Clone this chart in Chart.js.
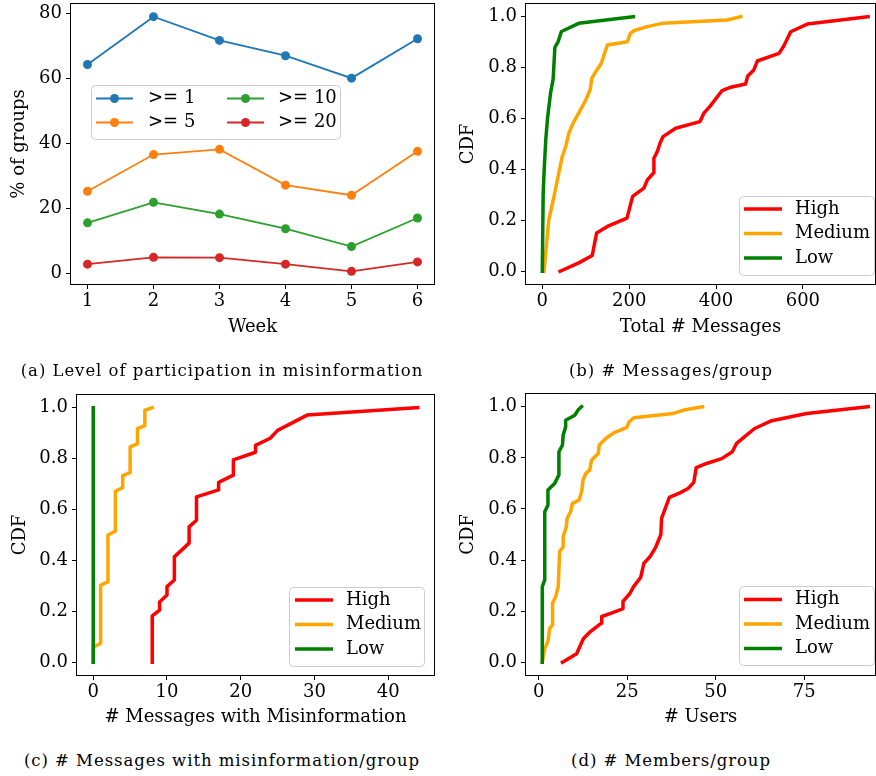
<!DOCTYPE html>
<html>
<head>
<meta charset="utf-8">
<script src="https://cdn.jsdelivr.net/npm/chart.js@4"></script>
<style>
  body { margin: 0; background: #fff; }
  #page { position: relative; width: 876px; height: 776px; overflow: hidden; background: #fff; }
  canvas { position: absolute; }
  .cap {
    position: absolute; white-space: nowrap; transform: translateX(-50%);
    font-family: 'DejaVu Serif'; font-size: 16.5px; line-height: 20px;
    letter-spacing: 0.95px; color: #000;
  }
</style>
</head>
<body>
<div id="page">
  <canvas id="cA" width="440" height="356" style="left:0;top:-16px"></canvas>
  <canvas id="cB" width="436" height="356" style="left:440px;top:-16px"></canvas>
  <canvas id="cC" width="440" height="362" style="left:0;top:374px"></canvas>
  <canvas id="cD" width="436" height="362" style="left:440px;top:374px"></canvas>
  <div class="cap" style="left:222px;top:361px">(a) Level of participation in misinformation</div>
  <div class="cap" style="left:671px;top:361px">(b) # Messages/group</div>
  <div class="cap" style="left:222px;top:751px">(c) # Messages with misinformation/group</div>
  <div class="cap" style="left:671px;top:751px">(d) # Members/group</div>
</div>
<script>
// ---- (a) weekly participation ----
const weeks = [1, 2, 3, 4, 5, 6];
const ge1 = [64.3, 79.0, 71.7, 67.0, 60.1, 72.2];
const ge5 = [25.3, 36.6, 38.2, 27.2, 24.1, 37.6];
const ge10 = [15.6, 21.9, 18.3, 13.8, 8.3, 17.1];
const ge20 = [2.9, 5.0, 4.9, 2.9, 0.7, 3.6];
const weekTicks = [1, 2, 3, 4, 5, 6];
const pctTicks = [0, 20, 40, 60, 80];

// ---- (b) total messages per group (CDF) ----
const msgHighX = [41, 84, 115, 125, 150, 195, 208, 234, 242, 256, 257, 265, 271, 278, 307, 363, 372, 387, 414, 434, 468, 473, 487, 495, 545, 556, 572, 610, 750];
const msgHighY = [0, 0.033, 0.062, 0.15, 0.176, 0.209, 0.294, 0.327, 0.359, 0.386, 0.444, 0.471, 0.503, 0.529, 0.562, 0.588, 0.621, 0.65, 0.71, 0.723, 0.736, 0.767, 0.791, 0.826, 0.856, 0.885, 0.941, 0.971, 1.0];
const msgMedX = [4, 15, 27, 38, 46, 54, 61, 71, 88, 100, 110, 114, 123, 136, 142, 150, 196, 203, 212, 242, 276, 426, 457];
const msgMedY = [0, 0.203, 0.294, 0.386, 0.451, 0.49, 0.542, 0.582, 0.634, 0.673, 0.712, 0.758, 0.784, 0.817, 0.85, 0.889, 0.902, 0.935, 0.946, 0.961, 0.974, 0.987, 1.0];
const msgLowX = [0, 2, 4, 8, 12, 19, 25, 29, 36, 44, 84, 210];
const msgLowY = [0, 0.3, 0.386, 0.516, 0.6, 0.7, 0.755, 0.88, 0.9, 0.942, 0.974, 1.0];
const msgTicks = [0, 200, 400, 600];

// ---- (c) messages with misinformation per group (CDF) ----
const misHighX = [8, 8, 9, 9, 10, 10, 11, 11, 13, 13, 14, 14, 17, 17, 19, 19, 22, 22, 24, 25, 29, 44];
const misHighY = [0, 0.182, 0.205, 0.237, 0.264, 0.297, 0.323, 0.414, 0.468, 0.532, 0.558, 0.65, 0.677, 0.707, 0.735, 0.795, 0.825, 0.852, 0.88, 0.911, 0.971, 1.0];
const misMedX = [0, 0, 1, 1, 2, 2, 3, 3, 4, 4, 5, 5, 6, 6, 7, 7, 8];
const misMedY = [0, 0.059, 0.074, 0.303, 0.316, 0.5, 0.515, 0.672, 0.686, 0.733, 0.745, 0.846, 0.858, 0.918, 0.93, 0.99, 1.0];
const misLowX = [0, 0];
const misLowY = [0, 1.0];
const misTicks = [0, 10, 20, 30, 40];

// ---- (d) members per group (CDF) ----
const usrHighX = [6.7, 10.7, 12.6, 14.6, 17.7, 17.8, 20.5, 23.7, 23.8, 25.7, 26.8, 28.8, 29.7, 31.6, 33.1, 34.5, 34.7, 36.9, 39.9, 42.2, 43.8, 44.5, 47.4, 51.7, 54.7, 55.9, 58.7, 61, 65.5, 75.7, 93.1];
const usrHighY = [0, 0.033, 0.092, 0.12, 0.153, 0.179, 0.192, 0.209, 0.238, 0.268, 0.296, 0.332, 0.387, 0.416, 0.452, 0.5, 0.563, 0.645, 0.663, 0.68, 0.704, 0.762, 0.778, 0.797, 0.824, 0.857, 0.889, 0.915, 0.944, 0.974, 1.0];
const usrMedX = [1, 1.7, 2.6, 3.1, 3.9, 3.9, 4.8, 5.5, 5.9, 6.9, 6.9, 7.8, 8.0, 9.0, 9.5, 11.4, 12.1, 12.5, 13.3, 14.4, 14.9, 16.8, 17.1, 19.1, 21.5, 24.8, 25.5, 26.9, 38, 41, 46.3];
const usrMedY = [0, 0.055, 0.081, 0.133, 0.146, 0.231, 0.257, 0.296, 0.433, 0.452, 0.491, 0.53, 0.563, 0.589, 0.621, 0.635, 0.667, 0.713, 0.739, 0.752, 0.791, 0.817, 0.85, 0.878, 0.9, 0.918, 0.941, 0.957, 0.974, 0.987, 1.0];
const usrLowX = [1, 1, 1.7, 1.7, 2.6, 2.6, 4.5, 5.7, 5.7, 6.7, 6.9, 7.6, 7.6, 10.2, 11.1, 12.1];
const usrLowY = [0, 0.296, 0.322, 0.589, 0.615, 0.674, 0.7, 0.733, 0.824, 0.85, 0.889, 0.921, 0.947, 0.967, 0.987, 1.0];
const usrTicks = [0, 25, 50, 75];

const cdfTicks = [0, 0.2, 0.4, 0.6, 0.8, 1.0];

const FONT = 'DejaVu Serif';
const pts = (xs, ys) => xs.map((x, i) => ({ x, y: ys[i] }));

// full black frame round the plot area (drawn above the lines, like matplotlib spines)
const frame = {
    id: 'frame',
    afterDatasetsDraw(chart) {
        const { ctx, chartArea: a } = chart;
        ctx.save();
        ctx.strokeStyle = '#000';
        ctx.lineWidth = 1;
        const l = Math.round(a.left) - 0.5, t = Math.round(a.top) - 0.5;
        ctx.strokeRect(l, t, Math.round(a.right) - Math.round(a.left) + 1, Math.round(a.bottom) - Math.round(a.top) + 1);
        ctx.restore();
    }
};

// matplotlib style legend box
function boxLegend(L) {
    return {
        id: 'boxLegend',
        afterDraw(chart) {
            const ctx = chart.ctx;
            ctx.save();
            ctx.beginPath();
            ctx.roundRect(L.x + 0.5, L.y + 0.5, L.w, L.h, 4);
            ctx.fillStyle = 'rgba(255,255,255,0.8)';
            ctx.fill();
            ctx.strokeStyle = '#cccccc';
            ctx.lineWidth = 1;
            ctx.stroke();
            L.items.forEach(it => {
                const ds = chart.data.datasets[it.ds];
                ctx.strokeStyle = ds.borderColor;
                ctx.lineWidth = ds.borderWidth;
                ctx.lineCap = 'butt';
                ctx.beginPath();
                ctx.moveTo(it.hx, it.y);
                ctx.lineTo(it.hx + L.len, it.y);
                ctx.stroke();
                if (ds.pointRadius) {
                    ctx.fillStyle = ds.borderColor;
                    ctx.beginPath();
                    ctx.arc(it.hx + L.len / 2, it.y, ds.pointRadius, 0, Math.PI * 2);
                    ctx.fill();
                }
                ctx.fillStyle = '#000';
                ctx.font = '18px "' + FONT + '"';
                ctx.textBaseline = 'middle';
                ctx.textAlign = 'left';
                ctx.fillText(ds.label, it.tx, it.y);
            });
            ctx.restore();
        }
    };
}

function axis(p, isX) {
    const a = isX ? p.x : p.y;
    return {
        type: 'linear',
        min: a.min,
        max: a.max,
        afterBuildTicks: s => { s.ticks = a.ticks.map(v => ({ value: v })); },
        afterFit: s => { if (isX) s.height = p.xH; else s.width = p.yW; },
        ticks: {
            color: '#000',
            font: { family: FONT, size: 18 },
            padding: isX ? 2 : 4,
            autoSkip: false,
            maxRotation: 0,
            callback: a.fmt
        },
        grid: { display: true, drawOnChartArea: false, drawTicks: true, tickLength: 5, color: '#000', lineWidth: 1 },
        border: { display: false },
        title: {
            display: true,
            text: a.title,
            color: '#000',
            font: { family: FONT, size: 18 },
            padding: isX ? { top: 0, bottom: p.xTitlePad } : { top: p.yTitlePad, bottom: 0 }
        }
    };
}

function makeChart(id, p, datasets) {
    return new Chart(document.getElementById(id), {
        type: 'scatter',
        data: { datasets },
        options: {
            responsive: false,
            animation: false,
            devicePixelRatio: 1,
            layout: { padding: { top: p.padTop, right: p.padRight, left: 0, bottom: 0 } },
            plugins: { legend: { display: false }, tooltip: { enabled: false } },
            scales: { x: axis(p, true), y: axis(p, false) }
        },
        plugins: [frame, boxLegend(p.legend)]
    });
}

const fmt1 = v => v.toFixed(1);
const fmt0 = v => String(v);

// (a)  canvas starts 16px above the page, so legend y values carry that offset
const lineA = (label, color, ys, order) => ({
    label, data: pts(weeks, ys), showLine: true, borderColor: color, backgroundColor: color,
    borderWidth: 1.8, pointRadius: 4.5, pointBorderWidth: 0, pointBackgroundColor: color, order
});
makeChart('cA', {
    padTop: 20, padRight: 6, yW: 71, xH: 56, yTitlePad: 9, xTitlePad: 2,
    x: { min: 0.75, max: 6.25, ticks: weekTicks, fmt: fmt0, title: 'Week' },
    y: { min: -3.2, max: 82.9, ticks: pctTicks, fmt: fmt0, title: '% of groups' },
    legend: {
        x: 91, y: 101, w: 249, h: 54, len: 37,
        items: [
            { ds: 0, hx: 96, tx: 148, y: 114.5 },
            { ds: 1, hx: 96, tx: 148, y: 138.5 },
            { ds: 2, hx: 227, tx: 278, y: 114.5 },
            { ds: 3, hx: 227, tx: 278, y: 138.5 }
        ]
    }
}, [
    lineA('>= 1', '#1f77b4', ge1, 4),
    lineA('>= 5', '#ff7f0e', ge5, 3),
    lineA('>= 10', '#2ca02c', ge10, 2),
    lineA('>= 20', '#d62728', ge20, 1)
]);

// CDF panels
const cdf = (label, color, xs, ys, order) => ({
    label, data: pts(xs, ys), showLine: true, borderColor: color, backgroundColor: color,
    borderWidth: 3.5, pointRadius: 0, borderJoinStyle: 'round', borderCapStyle: 'square', order
});
const cdfLegend = (x, y, hx, tx, r0) => ({
    x, y, w: 135, h: 79, len: 38,
    items: [0, 1, 2].map(i => ({ ds: i, hx, tx, y: r0 + i * 24.5 }))
});

makeChart('cB', {
    padTop: 20, padRight: 1, yW: 86, xH: 56, yTitlePad: 18, xTitlePad: 2,
    x: { min: -37.5, max: 766, ticks: msgTicks, fmt: fmt0, title: 'Total # Messages' },
    y: { min: -0.05, max: 1.05, ticks: cdfTicks, fmt: fmt1, title: 'CDF' },
    legend: cdfLegend(299, 212, 304, 355, 225)
}, [
    cdf('High', '#ff0000', msgHighX, msgHighY, 3),
    cdf('Medium', '#ffa500', msgMedX, msgMedY, 2),
    cdf('Low', '#008000', msgLowX, msgLowY, 1)
]);

makeChart('cC', {
    padTop: 21, padRight: 6, yW: 77, xH: 61, yTitlePad: 10, xTitlePad: 8,
    x: { min: -2.2, max: 46.2, ticks: misTicks, fmt: fmt0, title: '# Messages with Misinformation' },
    y: { min: -0.05, max: 1.05, ticks: cdfTicks, fmt: fmt1, title: 'CDF' },
    legend: cdfLegend(289, 213, 295, 346, 226)
}, [
    cdf('High', '#ff0000', misHighX, misHighY, 3),
    cdf('Medium', '#ffa500', misMedX, misMedY, 2),
    cdf('Low', '#008000', misLowX, misLowY, 1)
]);

makeChart('cD', {
    padTop: 20, padRight: 1, yW: 86, xH: 61, yTitlePad: 18, xTitlePad: 8,
    x: { min: -3.6, max: 95, ticks: usrTicks, fmt: fmt0, title: '# Users' },
    y: { min: -0.05, max: 1.05, ticks: cdfTicks, fmt: fmt1, title: 'CDF' },
    legend: cdfLegend(299, 212, 304, 355, 225.5)
}, [
    cdf('High', '#ff0000', usrHighX, usrHighY, 3),
    cdf('Medium', '#ffa500', usrMedX, usrMedY, 2),
    cdf('Low', '#008000', usrLowX, usrLowY, 1)
]);
</script>
</body>
</html>
